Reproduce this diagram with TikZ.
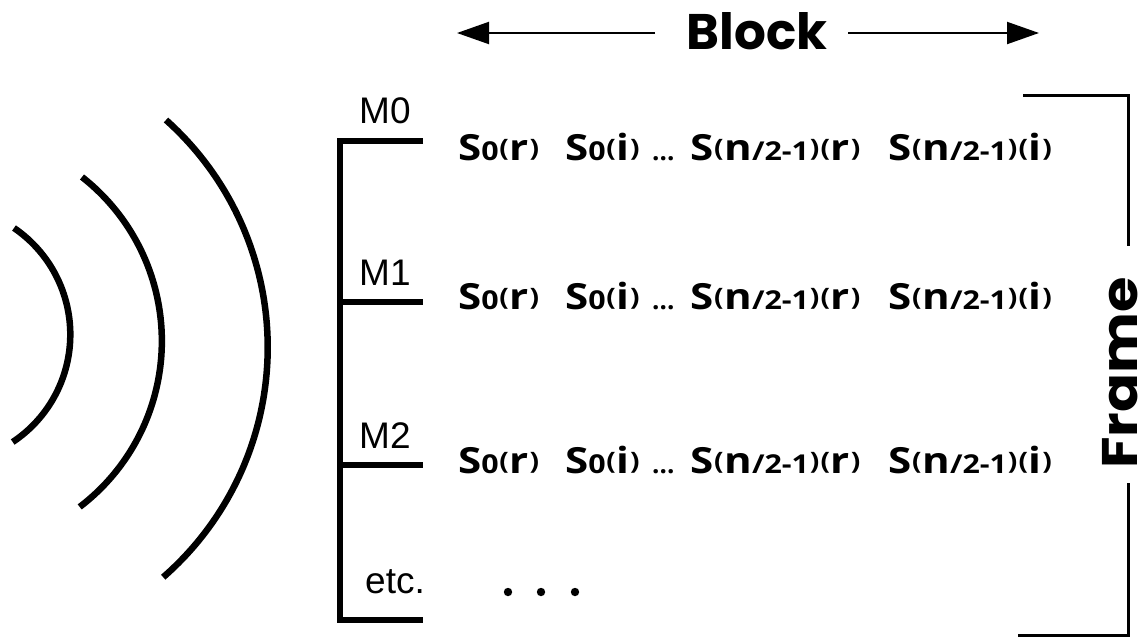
\documentclass[tikz,border=0pt]{standalone}
\usepackage{fontspec}
\usepackage{graphicx}
\setmainfont{Liberation Sans}
\newfontfamily\geofont{Poppins}
\newfontfamily\symfont{Open Sans}
\usetikzlibrary{arrows.meta}

% small glyphs (indices) inside a symbol name
\newcommand\ix[1]{{\fontsize{26}{26}\selectfont #1}}
% short brackets sitting on the baseline
\newcommand\lp{\kern0.6pt\raisebox{4pt}{\fontsize{24}{24}\selectfont(}\kern0.6pt}
\newcommand\rp{\kern0.6pt\raisebox{4pt}{\fontsize{24}{24}\selectfont)}\kern0.6pt}
% symbol names are set slightly extended
\newcommand\wide[1]{\scalebox{1.17}[1]{#1}}

\tikzset{
  wave/.style={line width=6.5pt},
  rail/.style={line width=6pt, line cap=butt},
  framebar/.style={line width=3pt},
  span/.style={line width=2pt, -{Triangle[length=32pt,width=22pt]}},
  mlabel/.style={anchor=base west, inner sep=0pt, font=\fontsize{37}{37}\selectfont},
  sym/.style={anchor=base west, inner sep=0pt, font=\symfont\bfseries\fontsize{36}{36}\selectfont},
  title/.style={inner sep=0pt, font=\geofont\bfseries\fontsize{50}{50}\selectfont},
}

\begin{document}
\begin{tikzpicture}[x=1pt, y=-1pt]
\useasboundingbox (0,0) rectangle (1146,638);

% radio waves
\draw[wave] (14,228) arc[start angle=55.7, end angle=-56.4, radius=129pt];
\draw[wave] (82,177) arc[start angle=51.9, end angle=-52.7, radius=208.5pt];
\draw[wave] (166,120) arc[start angle=48.2, end angle=-48.9, radius=305pt];

% antenna rail with the message taps
\coordinate (t0) at (343,141);
\coordinate (t1) at (343,302);
\coordinate (t2) at (343,465);
\coordinate (t3) at (343,620);
\draw[rail] ([xshift=80pt]t0) -- ([xshift=-3pt]t0) -- ([xshift=-3pt]t3) -- ([xshift=80pt]t3);
\draw[rail] (t1) -- ([xshift=80pt]t1);
\draw[rail] (t2) -- ([xshift=80pt]t2);

\node[mlabel] (m0) at (359,123) {M0};
\node[mlabel] (m1) at (359,285) {M1};
\node[mlabel] (m2) at (359,448) {M2};
\node[mlabel] (etc) at (365,593) {etc.};

% symbol rows
\foreach \r/\y in {0/160, 1/309, 2/473} {
  \node[sym] (s\r a) at (458,\y) {\wide{S\ix{0}\lp r\rp}};
  \node[sym] (s\r b) at (565,\y) {\wide{S\ix{0}\lp i\rp}};
  \node[sym] (s\r c) at (652,\y) {\ix{...}};
  \node[sym] (s\r d) at (690,\y) {\wide{S\lp n\ix{/2-1}\rp\lp r\rp}};
  \node[sym] (s\r e) at (888,\y) {\wide{S\lp n\ix{/2-1}\rp\lp i\rp}};
}

% continuation dots
\foreach \x/\n in {508/a, 541/b, 575/c}
  \fill (\x,592) coordinate (d\n) circle (4.2pt);

% block span
\node[title, anchor=base] (block) at (757,49) {Block};
\coordinate (bl) at (655,33);
\coordinate (blt) at (457,33);
\coordinate (br) at (848,33);
\coordinate (brt) at (1039,33);
\draw[span] (bl) -- (blt);
\draw[span] (br) -- (brt);

% frame span
\node[title, anchor=base, rotate=90, text depth=0pt] (frame) at (1137,373) {\scalebox{1.15}[1]{Frame}};
\coordinate (f0) at (1023,95);
\coordinate (f1) at (1128,95);
\coordinate (f2) at (1128,246);
\coordinate (f3) at (1128,483);
\coordinate (f4) at (1128,635);
\coordinate (f5) at (1018,635);
\draw[framebar] (f0) -- (f1) -- (f2);
\draw[framebar] (f3) -- (f4) -- (f5);
\end{tikzpicture}
\end{document}
